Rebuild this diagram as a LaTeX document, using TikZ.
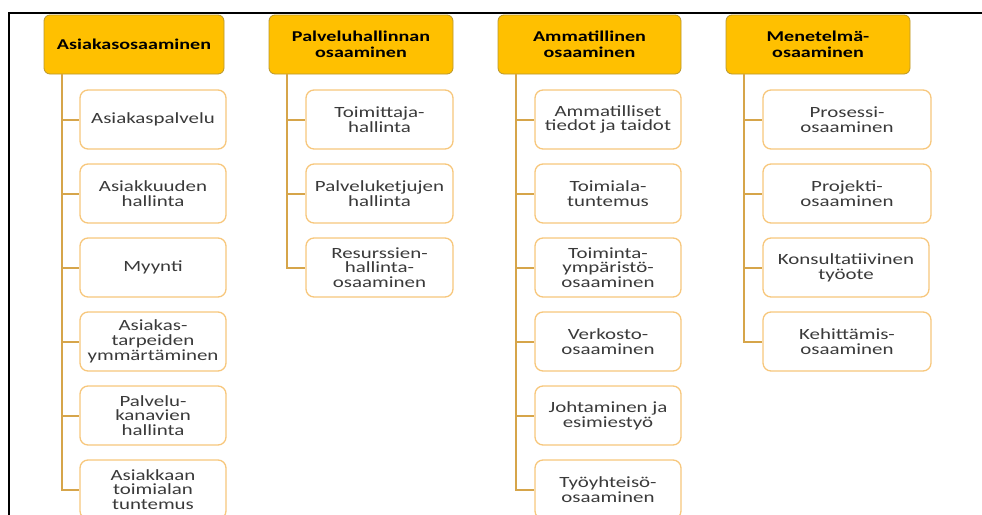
\documentclass[tikz,border=0pt]{standalone}
\usepackage{fontspec}
\setmainfont{Carlito}[FakeStretch=1.34]
\definecolor{headfill}{HTML}{FFC000}
\definecolor{headline}{HTML}{B8962E}
\definecolor{itemline}{HTML}{F7C77C}
\definecolor{connline}{HTML}{D6A54A}
\definecolor{itemtext}{HTML}{3A3A3A}
\tikzset{
  headbox/.style={draw=headline, line width=0.8pt, fill=headfill,
    rounded corners=6pt, minimum height=59pt, inner sep=0pt, align=center,
    text=black, font=\bfseries\fontsize{15}{16}\selectfont},
  itembox/.style={draw=itemline, line width=1.3pt, fill=white,
    rounded corners=8pt, minimum height=59pt, inner sep=0pt, align=center,
    text=itemtext, font=\fontsize{15.6}{14.7}\selectfont},
  conn/.style={draw=connline, line width=2pt},
  frameline/.style={draw=black, line width=1.8pt}
}
\begin{document}
\begin{tikzpicture}[x=1pt,y=-1pt]
\useasboundingbox (0,0) rectangle (982,514);
\clip (0,0) rectangle (982,514);

% outer frame
\coordinate (fa) at (9,520);
\coordinate (fb) at (9,13);
\coordinate (fc) at (990,13);
\draw[frameline] (fa) -- (fb) -- (fc);

% column headers
\node[headbox, minimum width=180pt] (h1) at (134,44.5) {Asiakasosaaminen};
\node[headbox, minimum width=184pt] (h2) at (361,44.5) {Palveluhallinnan\\osaaminen};
\node[headbox, minimum width=183pt] (h3) at (589.5,44.5) {Ammatillinen\\osaaminen};
\node[headbox, minimum width=184pt] (h4) at (818,44.5) {Menetelmä-\\osaaminen};

% trunk start points under each header
\coordinate (t1) at ([xshift=18pt]h1.south west);
\coordinate (t2) at ([xshift=18pt]h2.south west);
\coordinate (t3) at ([xshift=18pt]h3.south west);
\coordinate (t4) at ([xshift=18pt]h4.south west);

% column 1
\node[itembox, minimum width=146pt] (a1) at (153,119.5) {Asiakaspalvelu};
\node[itembox, minimum width=146pt] (a2) at (153,193.5) {Asiakkuuden\\hallinta};
\node[itembox, minimum width=146pt] (a3) at (153,267.5) {Myynti};
\node[itembox, minimum width=146pt] (a4) at (153,341.5) {Asiakas-\\tarpeiden\\ymmärtäminen};
\node[itembox, minimum width=146pt] (a5) at (153,415.5) {Palvelu-\\kanavien\\hallinta};
\node[itembox, minimum width=146pt] (a6) at (153,489.5) {Asiakkaan\\toimialan\\tuntemus};

% column 2
\node[itembox, minimum width=147pt] (b1) at (379.5,119.5) {Toimittaja-\\hallinta};
\node[itembox, minimum width=147pt] (b2) at (379.5,193.5) {Palveluketjujen\\hallinta};
\node[itembox, minimum width=147pt] (b3) at (379.5,267.5) {Resurssien-\\hallinta-\\osaaminen};

% column 3
\node[itembox, minimum width=146pt] (c1) at (608,119.5) {Ammatilliset\\tiedot ja taidot};
\node[itembox, minimum width=146pt] (c2) at (608,193.5) {Toimiala-\\tuntemus};
\node[itembox, minimum width=146pt] (c3) at (608,267.5) {Toiminta-\\ympäristö-\\osaaminen};
\node[itembox, minimum width=146pt] (c4) at (608,341.5) {Verkosto-\\osaaminen};
\node[itembox, minimum width=146pt] (c5) at (608,415.5) {Johtaminen ja\\esimiestyö};
\node[itembox, minimum width=146pt] (c6) at (608,489.5) {Työyhteisö-\\osaaminen};

% column 4
\node[itembox, minimum width=168pt] (d1) at (847,119.5) {Prosessi-\\osaaminen};
\node[itembox, minimum width=168pt] (d2) at (847,193.5) {Projekti-\\osaaminen};
\node[itembox, minimum width=166pt] (d3) at (846,267.5) {Konsultatiivinen\\työote};
\node[itembox, minimum width=168pt] (d4) at (847,341.5) {Kehittämis-\\osaaminen};

% connectors
\foreach \n in {a1,a2,a3,a4,a5,a6} \draw[conn] (t1) |- (\n.west);
\foreach \n in {b1,b2,b3} \draw[conn] (t2) |- (\n.west);
\foreach \n in {c1,c2,c3,c4,c5,c6} \draw[conn] (t3) |- (\n.west);
\foreach \n in {d1,d2,d3,d4} \draw[conn] (t4) |- (\n.west);
\end{tikzpicture}
\end{document}
